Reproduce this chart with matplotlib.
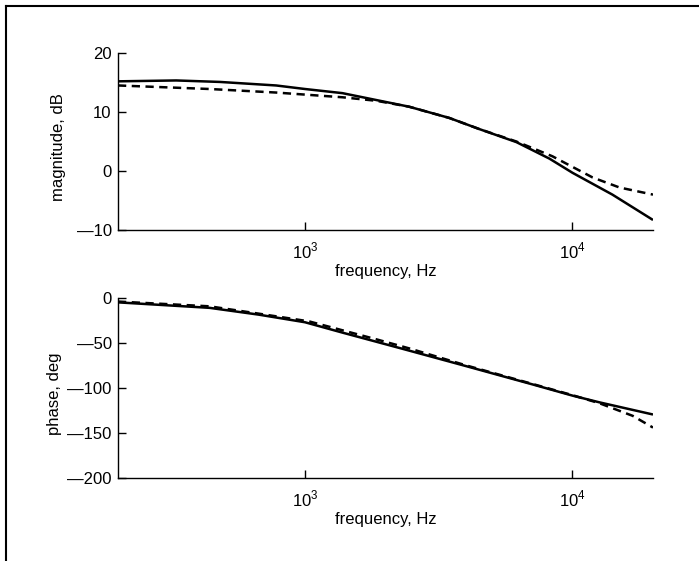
import numpy as np
import matplotlib.pyplot as plt
from matplotlib.lines import Line2D
from matplotlib.ticker import FixedLocator, FixedFormatter, NullLocator

plt.rcParams['font.family'] = ['Liberation Sans', 'DejaVu Sans']
plt.rcParams['mathtext.fontset'] = 'custom'
plt.rcParams['mathtext.rm'] = 'Liberation Sans'
plt.rcParams['font.size'] = 12

# magnitude response
mag_freq_solid = [200, 330, 480, 780, 1000, 1380, 2450, 3460, 4490, 6170, 8200, 10000, 14100, 20000]
mag_solid = [15.2, 15.35, 15.1, 14.5, 13.9, 13.2, 10.9, 9.0, 7.1, 4.9, 2.1, -0.3, -4.0, -8.3]
mag_freq_dashed = [200, 440, 780, 1380, 1850, 2450, 3460, 4490, 6170, 8410, 10000, 11900, 15000, 20000]
mag_dashed = [14.5, 13.9, 13.3, 12.5, 11.9, 10.9, 9.0, 7.1, 5.0, 2.5, 0.7, -1.1, -2.8, -4.0]

# phase response
ph_freq_solid = [200, 440, 670, 1000, 1380, 2250, 4010, 7080, 10000, 12620, 20000]
ph_solid = [-4.9, -11, -18.5, -27, -38.5, -55.5, -75.8, -96, -108.5, -116, -129.5]
ph_freq_dashed = [200, 440, 670, 1035, 1850, 2450, 4010, 7080, 10000, 12620, 16800, 20000]
ph_dashed = [-4, -9.3, -17.4, -26, -46, -56, -75, -95.5, -108, -117, -131, -144]

freq_ticks = [1e3, 1e4]
freq_tick_labels = ['10$^3$', '10$^4$']
mag_ticks = [-10, 0, 10, 20]
mag_tick_labels = ['\u201410', '0', '10', '20']
ph_ticks = [-200, -150, -100, -50, 0]
ph_tick_labels = ['\u2014200', '\u2014150', '\u2014100', '\u201450', '0']

fig = plt.figure(figsize=(6.99, 5.61), dpi=100)
ax1 = fig.add_axes([0.1688, 0.590, 0.7654, 0.3155])
ax2 = fig.add_axes([0.1688, 0.148, 0.7654, 0.3209])

lw = 1.8
ax1.plot(mag_freq_solid, mag_solid, color='black', lw=lw, solid_capstyle='butt')
ax1.plot(mag_freq_dashed, mag_dashed, color='black', lw=lw, dashes=(3.3, 2.2))
ax2.plot(ph_freq_solid, ph_solid, color='black', lw=lw, solid_capstyle='butt')
ax2.plot(ph_freq_dashed, ph_dashed, color='black', lw=lw, dashes=(3.3, 2.2))

for ax, yt, ytl, ylab in [(ax1, mag_ticks, mag_tick_labels, 'magnitude, dB'),
                          (ax2, ph_ticks, ph_tick_labels, 'phase, deg')]:
    ax.set_xscale('log')
    ax.set_xlim(200, 20000)
    ax.set_ylim(yt[0], yt[-1])
    ax.xaxis.set_major_locator(FixedLocator(freq_ticks))
    ax.xaxis.set_major_formatter(FixedFormatter(freq_tick_labels))
    ax.xaxis.set_minor_locator(NullLocator())
    ax.yaxis.set_major_locator(FixedLocator(yt))
    ax.yaxis.set_major_formatter(FixedFormatter(ytl))
    ax.spines['top'].set_visible(False)
    ax.spines['right'].set_visible(False)
    for s in ('left', 'bottom'):
        ax.spines[s].set_linewidth(1.0)
    ax.tick_params(axis='both', direction='in', length=6, width=1.0, colors='black')
    ax.tick_params(axis='y', pad=4.5)
    ax.tick_params(axis='x', pad=8)
    ax.set_xlabel('frequency, Hz', labelpad=2)
    ax.set_ylabel(ylab)
    ax.patch.set_visible(False)

ax1.yaxis.set_label_coords(-0.097, 0.47)
ax2.yaxis.set_label_coords(-0.105, 0.47)

# page frame (top and left edges)
fig.add_artist(Line2D([0.0086, 1.0], [0.989, 0.989], color='black', lw=1.5))
fig.add_artist(Line2D([0.0086, 0.0086], [0.0, 0.989], color='black', lw=1.5))

fig.savefig('out.png', dpi=100)
